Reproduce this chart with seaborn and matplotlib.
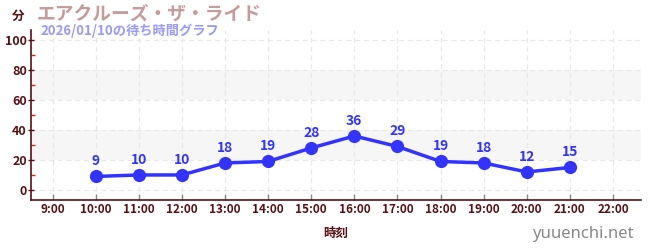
import matplotlib
matplotlib.use("Agg")
import matplotlib.pyplot as plt
import seaborn as sns
import pandas as pd
from matplotlib.ticker import MultipleLocator

hours = [10, 11, 12, 13, 14, 15, 16, 17, 18, 19, 20, 21]
waits = [9, 10, 10, 18, 19, 28, 36, 29, 19, 18, 12, 15]
tick_hours = list(range(9, 23))
tick_labels = [f"{h}:00" for h in tick_hours]
title = "エアクルーズ・ザ・ライド"
subtitle = "2026/01/10の待ち時間グラフ"

sns.set_theme(style="white")
plt.rcParams['font.family'] = ['Noto Sans CJK JP', 'DejaVu Sans']

df = pd.DataFrame({"hour": hours, "wait": waits})

fig = plt.figure(figsize=(6.5, 2.5), dpi=100)
ax = fig.add_axes([31/650, 1 - 200/250, 610/650, 170/250])

ax.set_xlim(8.5, 22.65)
ax.set_ylim(-6.7, 106.7)

for lo, hi in [(20, 40), (60, 80)]:
    ax.axhspan(lo, hi, color="#f6f6f6", zorder=0, lw=0)

ax.set_xticks(tick_hours)
ax.set_xticklabels(tick_labels)
ax.set_yticks([0, 20, 40, 60, 80, 100])
ax.yaxis.set_minor_locator(MultipleLocator(10))
ax.grid(True, which="major", color="#e8e8e8", ls=(0, (4, 3)), lw=0.9, zorder=0)

sns.lineplot(data=df, x="hour", y="wait", ax=ax, color="#3333ff", lw=2.5,
             marker="o", markersize=9.5, markeredgewidth=0, zorder=3)

for h, w in zip(hours, waits):
    ax.annotate(str(w), (h, w), xytext=(0, 6), textcoords="offset points",
                ha="center", va="bottom", color="#3333ff", fontsize=10,
                fontweight="bold", zorder=4)

dark = "#5a0f14"
for s in ["top", "right"]:
    ax.spines[s].set_visible(False)
ax.spines["left"].set_color(dark)
ax.spines["bottom"].set_color(dark)
ax.spines["left"].set_linewidth(1.2)
ax.spines["bottom"].set_linewidth(1.2)

ax.tick_params(axis="y", which="major", length=4, width=1, color=dark, labelsize=9,
               labelcolor=dark, pad=1, direction="inout", left=True)
ax.tick_params(axis="y", which="minor", length=3, width=1, color="#dd2222",
               direction="in", left=True)
ax.tick_params(axis="x", which="major", length=4, width=1, color="#888888", labelsize=8.5,
               labelcolor=dark, pad=2, direction="in", bottom=True)
for lab in ax.get_xticklabels() + ax.get_yticklabels():
    lab.set_fontweight("bold")

ax.set_xlabel("時刻", color=dark, fontsize=9, fontweight="bold", labelpad=8)
ax.set_ylabel("")

fig.text(18/650, 1 - 16/250, "分", color=dark, fontsize=9, fontweight="bold",
         ha="center", va="center")
fig.text(37/650, 1 - 14/250, title, color="#c99a9a", fontsize=13.5, fontweight="bold",
         ha="left", va="center")
fig.text(40/650, 1 - 31/250, subtitle, color="#9999ff", fontsize=9.5, fontweight="bold",
         ha="left", va="center")
fig.text(634/650, 1 - 234/250, "yuuenchi.net", color="#888888", fontsize=12,
         ha="right", va="center", family=["Noto Sans", "DejaVu Sans"])

fig.savefig("out.png", dpi=100)
